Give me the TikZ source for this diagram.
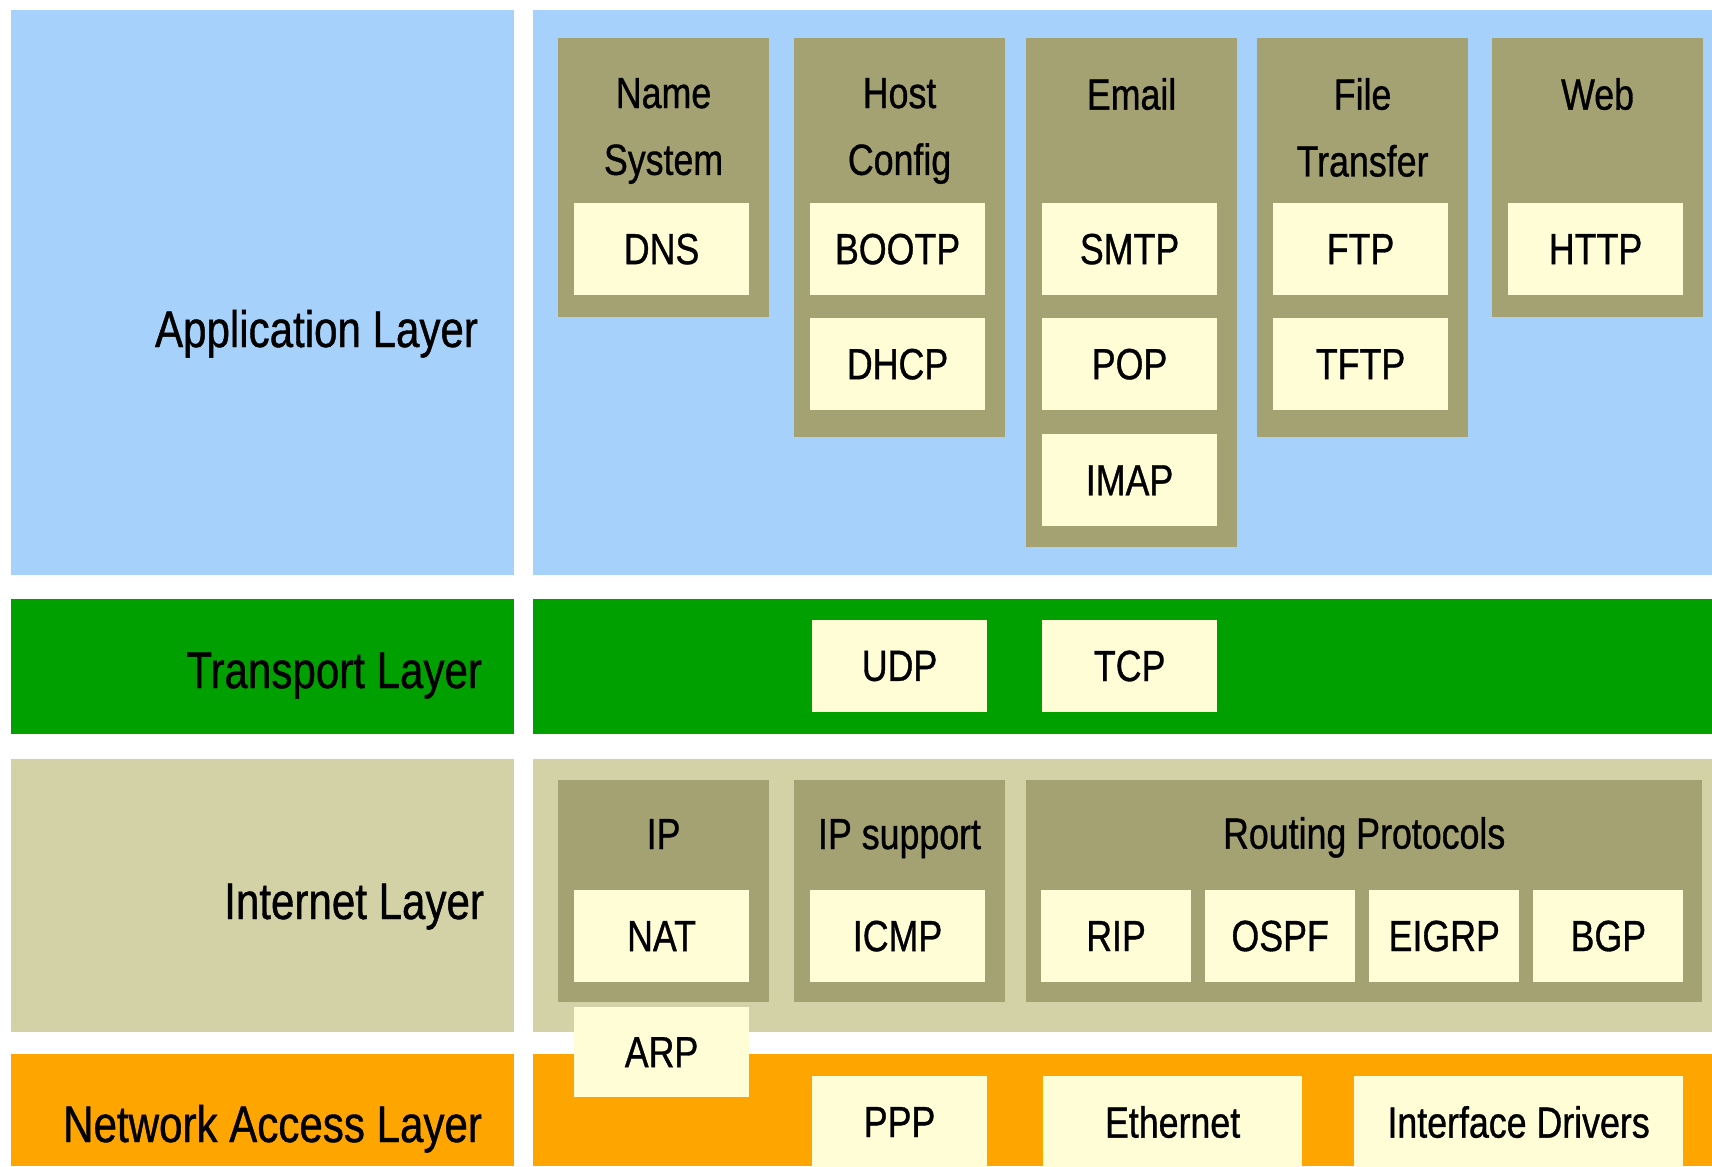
\documentclass[tikz,border=0pt]{standalone}
\usepackage{fontspec}
\setmainfont[FakeStretch=0.82, FakeBold=0.8]{Liberation Sans}
\usetikzlibrary{positioning}
\definecolor{appblue}{RGB}{165,209,250}
\definecolor{tpgreen}{RGB}{0,160,0}
\definecolor{inettan}{RGB}{211,210,166}
\definecolor{netorange}{RGB}{255,165,0}
\definecolor{grpolive}{RGB}{164,161,114}
\definecolor{protoyellow}{RGB}{255,253,214}
\tikzset{
    every node/.style={inner sep=0pt, outer sep=0pt},
    layerbox/.style={anchor=north west, minimum width=5.03cm},
    bandbox/.style={anchor=north west, minimum width=11.79cm},
    layertext/.style={anchor=base east, font=\fontsize{14.6}{17}\selectfont},
    groupbox/.style={fill=grpolive, anchor=north west, minimum width=2.11cm},
    grouptitle/.style={anchor=north, align=center, font=\fontsize{12.4}{19}\selectfont},
    proto/.style={fill=protoyellow, minimum width=1.75cm, minimum height=0.92cm, font=\fontsize{12.4}{15}\selectfont},
}

\begin{document}
\begin{tikzpicture}[x=0.01cm, y=-0.01cm]
   \useasboundingbox (0,0) rectangle (1712,1166);
% the four layers: label column on the left, band on the right
   \node[layerbox, fill=appblue, minimum height=5.65cm] (applayer) at (11,10) {};
   \node[bandbox, fill=appblue, minimum height=5.65cm] (appband) at (533,10) {};
   \node[layerbox, fill=tpgreen, minimum height=1.35cm] (tplayer) at (11,599) {};
   \node[bandbox, fill=tpgreen, minimum height=1.35cm] (tpband) at (533,599) {};
   \node[layerbox, fill=inettan, minimum height=2.73cm] (inetlayer) at (11,759) {};
   \node[bandbox, fill=inettan, minimum height=2.73cm] (inetband) at (533,759) {};
   \node[layerbox, fill=netorange, minimum height=1.12cm] (netlayer) at (11,1054) {};
   \node[bandbox, fill=netorange, minimum height=1.12cm] (netband) at (533,1054) {};
   \node[layertext] (applbl) at (478,347) {Application Layer};
   \node[layertext] (tplbl) at (482,688) {Transport Layer};
   \node[layertext] (inetlbl) at (484,919) {Internet Layer};
   \node[layertext] (netlbl) at (482,1142) {Network Access Layer};
% application groups
   \node[groupbox, minimum height=2.79cm] (namegrp) at (558,38) {};
   \node[groupbox, minimum height=3.99cm] (hostgrp) at (794,38) {};
   \node[groupbox, minimum height=5.09cm] (mailgrp) at (1026,38) {};
   \node[groupbox, minimum height=3.99cm] (filegrp) at (1257,38) {};
   \node[groupbox, minimum height=2.79cm] (webgrp) at (1492,38) {};
   \node[grouptitle, below=0.40cm of namegrp.north] (nametitle) {Name\\System};
   \node[grouptitle, below=0.40cm of hostgrp.north] (hosttitle) {Host\\Config};
   \node[grouptitle, below=0.40cm of mailgrp.north] (mailtitle) {Email};
   \node[grouptitle, below=0.40cm of filegrp.north] (filetitle) {File\\Transfer};
   \node[grouptitle, below=0.40cm of webgrp.north] (webtitle) {Web};
   \node[proto, below=1.65cm of namegrp.north, xshift=-0.02cm] (dns) {DNS};
   \node[proto, below=1.65cm of hostgrp.north, xshift=-0.02cm] (bootp) {BOOTP};
   \node[proto, below=0.23cm of bootp] (dhcp) {DHCP};
   \node[proto, below=1.65cm of mailgrp.north, xshift=-0.02cm] (smtp) {SMTP};
   \node[proto, below=0.23cm of smtp] (pop) {POP};
   \node[proto, below=0.24cm of pop] (imap) {IMAP};
   \node[proto, below=1.65cm of filegrp.north, xshift=-0.02cm] (ftp) {FTP};
   \node[proto, below=0.23cm of ftp] (tftp) {TFTP};
   \node[proto, below=1.65cm of webgrp.north, xshift=-0.02cm] (http) {HTTP};
% transport protocols
   \node[proto, anchor=north west] (udp) at (812,620) {UDP};
   \node[proto, right=0.55cm of udp] (tcp) {TCP};
% internet groups
   \node[groupbox, minimum height=2.22cm] (ipgrp) at (558,780) {};
   \node[groupbox, minimum height=2.22cm] (ipsupgrp) at (794,780) {};
   \node[groupbox, minimum height=2.22cm, minimum width=6.76cm] (routegrp) at (1026,780) {};
   \node[grouptitle, below=0.39cm of ipgrp.north] (iptitle) {IP};
   \node[grouptitle, below=0.39cm of ipsupgrp.north] (ipsuptitle) {IP support};
   \node[grouptitle, below=0.37cm of routegrp.north] (routetitle) {Routing Protocols};
   \node[proto, below=1.10cm of ipgrp.north, xshift=-0.02cm] (nat) {NAT};
   \node[proto, below=1.10cm of ipsupgrp.north, xshift=-0.02cm] (icmp) {ICMP};
   \node[proto, minimum width=1.50cm, anchor=north west] (rip) at (1041,890) {RIP};
   \node[proto, minimum width=1.50cm, right=0.14cm of rip] (ospf) {OSPF};
   \node[proto, minimum width=1.50cm, right=0.14cm of ospf] (eigrp) {EIGRP};
   \node[proto, minimum width=1.50cm, right=0.14cm of eigrp] (bgp) {BGP};
   \node[proto, minimum height=0.90cm, below=0.25cm of nat] (arp) {ARP};
% network access protocols
   \node[proto, anchor=north west] (ppp) at (812,1076) {PPP};
   \node[proto, minimum width=2.59cm, anchor=north west] (ether) at (1043,1076) {Ethernet};
   \node[proto, minimum width=3.29cm, anchor=north west] (drivers) at (1354,1076) {Interface Drivers};
\end{tikzpicture}
\end{document}
